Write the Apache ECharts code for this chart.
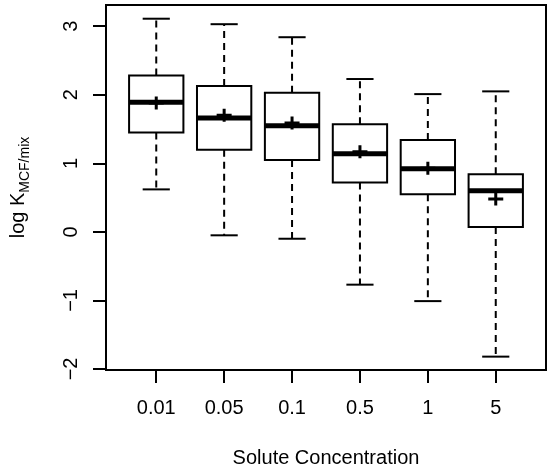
<!DOCTYPE html>
<html>
<head>
<meta charset="utf-8">
<style>
  html, body { margin: 0; padding: 0; background: #fff; }
  #container { width: 550px; height: 470px; }
</style>
<script src="https://cdn.jsdelivr.net/npm/echarts@6/dist/echarts.min.js"></script>
</head>
<body>
<div id="container"></div>
<script>
var categories = ['0.01', '0.05', '0.1', '0.5', '1', '5'];
var whiskerLow = [0.62, -0.05, -0.10, -0.77, -1.01, -1.82];
var quartile1 = [1.45, 1.20, 1.05, 0.72, 0.55, 0.07];
var medians = [1.89, 1.66, 1.55, 1.14, 0.92, 0.60];
var quartile3 = [2.28, 2.13, 2.03, 1.57, 1.34, 0.84];
var whiskerHigh = [3.11, 3.03, 2.84, 2.23, 2.01, 2.05];
var means = [1.88, 1.70, 1.59, 1.17, 0.93, 0.48];
var yTicks = [-2, -1, 0, 1, 2, 3];
var xTicks = categories.map(function (c, i) { return i + 1; });

var FONT = 'Liberation Sans, Arial, sans-serif';
var BOX_WIDTH = 0.8;

var boxData = categories.map(function (c, i) {
  return [i + 1, whiskerLow[i], quartile1[i], medians[i], quartile3[i], whiskerHigh[i]];
});
var meanData = categories.map(function (c, i) {
  return [i + 1, means[i]];
});

function renderBox(params, api) {
  var x = api.value(0);
  var half = api.size([BOX_WIDTH, 0])[0] / 2;
  var cap = half / 2;
  var lo = api.coord([x, api.value(1)]);
  var q1 = api.coord([x, api.value(2)]);
  var med = api.coord([x, api.value(3)]);
  var q3 = api.coord([x, api.value(4)]);
  var hi = api.coord([x, api.value(5)]);
  var cx = q1[0];
  var dashed = { stroke: '#000', lineWidth: 2, lineDash: [7, 5] };
  var solid = { stroke: '#000', lineWidth: 2 };
  return {
    type: 'group',
    children: [
      { type: 'line', shape: { x1: cx, y1: q3[1], x2: cx, y2: hi[1] }, style: dashed },
      { type: 'line', shape: { x1: cx, y1: q1[1], x2: cx, y2: lo[1] }, style: dashed },
      { type: 'line', shape: { x1: cx - cap, y1: hi[1], x2: cx + cap, y2: hi[1] }, style: solid },
      { type: 'line', shape: { x1: cx - cap, y1: lo[1], x2: cx + cap, y2: lo[1] }, style: solid },
      {
        type: 'rect',
        shape: { x: cx - half, y: q3[1], width: half * 2, height: q1[1] - q3[1] },
        style: { fill: '#fff', stroke: '#000', lineWidth: 2 }
      },
      {
        type: 'line',
        shape: { x1: cx - half, y1: med[1], x2: cx + half, y2: med[1] },
        style: { stroke: '#000', lineWidth: 5 }
      }
    ]
  };
}

var dom = document.getElementById('container');
var myChart = echarts.init(dom, null, { renderer: 'canvas' });

var option = {
  animation: false,
  backgroundColor: '#fff',
  grid: {
    left: 106,
    right: 4,
    top: 5,
    bottom: 100,
    outerBoundsMode: 'none',
    containLabel: false,
    show: true,
    borderColor: '#000',
    borderWidth: 2,
    backgroundColor: 'transparent'
  },
  xAxis: {
    type: 'value',
    min: 0.26,
    max: 6.74,
    name: 'Solute Concentration',
    nameLocation: 'middle',
    nameGap: 78,
    nameTextStyle: { color: '#000', fontSize: 20, fontFamily: FONT },
    axisLine: { show: false, onZero: false },
    splitLine: { show: false },
    axisTick: {
      customValues: xTicks,
      length: 13,
      lineStyle: { color: '#000', width: 2 }
    },
    axisLabel: {
      customValues: xTicks,
      margin: 28,
      color: '#000',
      fontSize: 20,
      fontFamily: FONT,
      formatter: function (v) { return categories[Math.round(v) - 1]; }
    }
  },
  yAxis: {
    type: 'value',
    min: -2.015,
    max: 3.31,
    name: '{a|log K}{b|MCF/mix}',
    nameLocation: 'middle',
    nameRotate: 90,
    nameGap: 74,
    nameTextStyle: {
      color: '#000',
      fontFamily: FONT,
      rich: {
        a: { fontSize: 20, fontFamily: FONT, color: '#000', padding: [0, 0, 4, 0] },
        b: { fontSize: 14, fontFamily: FONT, color: '#000', verticalAlign: 'bottom' }
      }
    },
    axisLine: { show: false, onZero: false },
    splitLine: { show: false },
    axisTick: {
      customValues: yTicks,
      length: 13,
      lineStyle: { color: '#000', width: 2 }
    },
    axisLabel: {
      customValues: yTicks,
      rotate: 90,
      margin: 25,
      color: '#000',
      fontSize: 20,
      fontFamily: FONT,
      formatter: function (v) { return String(v).replace('-', '\u2212'); }
    }
  },
  series: [
    {
      type: 'custom',
      renderItem: renderBox,
      encode: { x: 0, y: [1, 2, 3, 4, 5] },
      data: boxData
    },
    {
      type: 'scatter',
      symbol: 'path://M6,0H9V5H15V8H9V13H6V8H0V5H6Z',
      symbolSize: [15, 13],
      itemStyle: { color: '#000', opacity: 1 },
      z: 5,
      data: meanData
    }
  ]
};

myChart.setOption(option);
window.addEventListener('resize', myChart.resize);
</script>
</body>
</html>
